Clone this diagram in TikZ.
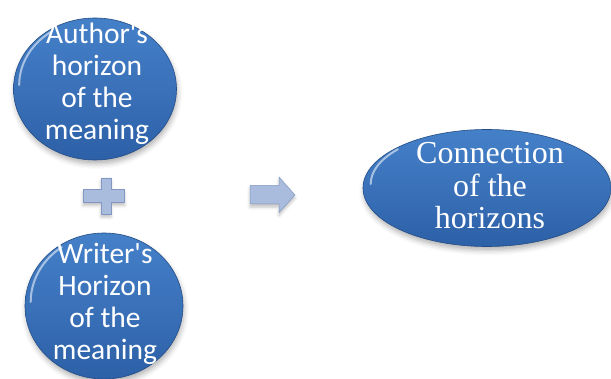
\documentclass[tikz,border=0pt]{standalone}
\usepackage{fontspec}
\setmainfont{Liberation Serif}
\newfontfamily\calib{Carlito}
\usetikzlibrary{shapes.geometric,shadows.blur}
\definecolor{ballblue}{HTML}{3A71B9}
\definecolor{balltop}{HTML}{4480C8}
\definecolor{ballbot}{HTML}{2C60A7}
\definecolor{symblue}{HTML}{A9BCDD}
\definecolor{symdark}{HTML}{8298C2}
\tikzset{
  ball/.style={ellipse, draw=ballbot!80!black, line width=0.6pt, inner sep=0pt,
    top color=balltop, bottom color=ballbot, middle color=ballblue,
    blur shadow={shadow xshift=1pt, shadow yshift=-4pt, shadow blur radius=5pt, shadow opacity=30}},
  balltext/.style={text=white, align=center, font=\calib\fontsize{29.5}{32}\selectfont, inner sep=0pt},
  elltext/.style={text=white, align=center, font=\fontsize{32}{32.5}\selectfont, inner sep=0pt},
  symb/.style={fill=symblue, draw=symdark, line width=0.5pt,
    blur shadow={shadow xshift=0pt, shadow yshift=-3pt, shadow blur radius=3pt, shadow opacity=25}},
  gloss/.style={white, line width=2pt, line cap=round, opacity=0.55}
}
\begin{document}
\begin{tikzpicture}[x=1pt,y=-1pt]
\useasboundingbox (0,0) rectangle (611,379);
\clip (0,0) rectangle (611,379);
% top circle
\node[ball, minimum width=163pt, minimum height=142pt] (a) at (95,89) {};
\draw[gloss] ([shift={(6,-4)}]a.west) arc[x radius=75, y radius=65, start angle=180, end angle=235];
\node[balltext] (at) at (97,84) {Author's\\horizon\\of the\\meaning};
% bottom circle
\node[ball, minimum width=158pt, minimum height=146pt] (b) at (104,306) {};
\draw[gloss] ([shift={(6,-4)}]b.west) arc[x radius=73, y radius=67, start angle=180, end angle=235];
\node[balltext] (bt) at (105,304) {Writer's\\Horizon\\of the\\meaning};
% right ellipse
\node[ball, minimum width=248pt, minimum height=117pt] (c) at (487,188) {};
\draw[gloss] ([shift={(8,-4)}]c.west) arc[x radius=116, y radius=54, start angle=180, end angle=220];
\node[elltext] (ct) at (490,186) {Connection\\of the\\horizons};
% plus sign
\coordinate (p) at (106,196);
\draw[symb] ($(p)+(-5,-18)$) -- ++(10,0) -- ++(0,11.5) -- ++(13.5,0) -- ++(0,13) -- ++(-13.5,0)
  -- ++(0,11.5) -- ++(-10,0) -- ++(0,-11.5) -- ++(-18,0) -- ++(0,-13) -- ++(18,0) -- cycle;
% arrow
\coordinate (r) at (295,195);
\draw[symb] ($(r)+(-45,-9.5)$) -- ++(29,0) -- ++(0,-8.5) -- (r) -- ++(-16,17.5) -- ++(0,-8.5) -- ++(-29,0) -- cycle;
\end{tikzpicture}
\end{document}
